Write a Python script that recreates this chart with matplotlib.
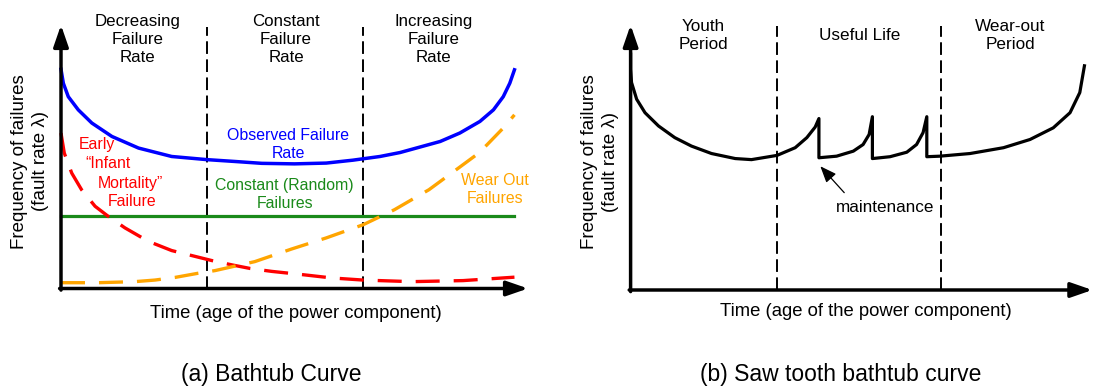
import matplotlib
matplotlib.use("Agg")
import matplotlib.pyplot as plt

plt.rcParams['font.family'] = ['Liberation Sans', 'DejaVu Sans']

# ---------------- data: panel (a) bathtub curve ----------------
obs_x = [0, 0.5, 1.56, 3.7, 6.6, 10.9, 16.6, 23.7, 31.3, 37.3, 43.0, 50.0, 56.8, 62.5,
         68.3, 72.6, 76.9, 81.2, 85.4, 89.7, 92.6, 94.7, 96.1, 97.1]
obs_y = [83.2, 77.9, 72.8, 67.8, 62.8, 57.7, 53.3, 50.1, 48.9, 48.2, 47.5, 47.3, 47.6, 48.7,
         50.1, 51.6, 53.7, 55.8, 59.0, 63.4, 67.8, 72.8, 77.9, 83.0]

early_x = [0, 0.7, 2.3, 4.4, 7.3, 10.1, 13.7, 18.7, 23.7, 28.0, 32.3, 36.5, 40.5, 45.1,
           51.5, 58.0, 64.7, 75.1, 86.1, 97.1]
early_y = [59.0, 51.4, 43.8, 37.5, 31.2, 27.4, 23.0, 17.9, 14.4, 12.5, 10.6, 9.0, 7.6, 6.5,
           5.3, 4.0, 3.2, 2.6, 3.0, 4.3]

wear_x = [0, 8.0, 15.8, 20.1, 24.4, 29.4, 33.0, 41.5, 49.4, 56.8, 64.7, 71.4, 78.8, 85.1,
          89.0, 91.2, 94.7, 97.1]
wear_y = [2.2, 2.2, 2.6, 3.2, 4.2, 5.8, 6.8, 10.2, 15.0, 19.2, 24.2, 29.9, 37.5, 45.7,
          50.8, 54.5, 60.9, 65.9]

const_x = [0, 97.1]
const_y = [27.6, 27.6]

a_dividers = [31.3, 64.7]
a_headers = ["Decreasing\nFailure\nRate", "Constant\nFailure\nRate", "Increasing\nFailure\nRate"]
a_header_x = [16.4, 48.2, 79.7]

# ---------------- data: panel (b) saw-tooth curve ----------------
saw_x = [0, 0, 0.2, 1.3, 3.1, 6.0, 9.5, 13.1, 17.4, 22.5, 26.0, 31.5, 35.4, 37.9, 39.7, 40.5,
         40.5, 44.3, 47.9, 50.0, 51.3, 52.0,
         52.0, 55.8, 59.4, 61.5, 62.9, 63.7,
         63.7, 66.5, 73.0, 80.2, 85.9, 90.9, 94.5, 96.6, 97.6]
saw_y = [89.0, 83.3, 78.3, 72.0, 66.9, 61.9, 57.5, 54.3, 51.5, 49.6, 49.2, 50.8, 53.7, 57.5, 61.5, 64.7,
         49.9, 50.5, 52.4, 54.9, 58.7, 65.4,
         49.6, 50.3, 52.0, 54.9, 59.4, 65.4,
         50.3, 50.5, 51.5, 53.7, 56.8, 61.2, 66.9, 74.5, 84.6]

b_dividers = [31.5, 66.7]
b_headers = ["Youth\nPeriod", "Useful Life", "Wear-out\nPeriod"]
b_header_x = [15.6, 49.3, 81.7]

ylabel = "Frequency of failures\n(fault rate λ)"
xlabel = "Time (age of the power component)"

W, H = 1094, 389
fig = plt.figure(figsize=(W / 100, H / 100), dpi=100)

axA = fig.add_axes([61 / W, (H - 288.5) / H, 467 / W, 263.5 / H])
axB = fig.add_axes([630.6 / W, (H - 290) / H, 465 / W, 265 / H])

arrow_props = dict(arrowstyle='-|>,head_length=1.3,head_width=0.45', lw=2.5,
                   color='black', shrinkA=0, shrinkB=0, mutation_scale=10)


def draw_axes(ax, xend, dividers, div_top):
    ax.set_xlim(0, 100)
    ax.set_ylim(0, 100)
    ax.axis('off')
    ax.annotate('', xy=(0, 100), xytext=(0, -0.6), arrowprops=arrow_props,
                annotation_clip=False)
    ax.annotate('', xy=(xend, 0), xytext=(-0.3, 0), arrowprops=arrow_props,
                annotation_clip=False)
    for d in dividers:
        ax.plot([d, d], [0, div_top], color='black', lw=1.4,
                linestyle=(0, (6.5, 2.8)), clip_on=False)
    ax.text(-6.6, 48.3, ylabel, rotation=90, ha='center', va='center',
            multialignment='center', fontsize=13.5, linespacing=1.3)


draw_axes(axA, 100, a_dividers, 99.2)
draw_axes(axB, 99.3, b_dividers, 99.7)

dash = (0, (7.2, 4.2))
axA.plot(obs_x, obs_y, color='#0000ff', lw=2.5, clip_on=False, solid_joinstyle='round')
axA.plot(const_x, const_y, color='#1a8a1a', lw=2.3, clip_on=False)
axA.plot(early_x, early_y, color='#ff0000', lw=2.4, linestyle=dash, clip_on=False)
axA.plot(wear_x, wear_y, color='#ffa500', lw=2.4, linestyle=dash, clip_on=False)

for hx, ht in zip(a_header_x, a_headers):
    axA.text(hx, 94.5, ht, ha='center', va='center', fontsize=12.2, linespacing=1.22)

axA.text(48.6, 54.7, "Observed Failure\nRate", color='#0000ff', ha='center', va='center',
         fontsize=11.4, linespacing=1.2)
axA.text(47.9, 35.6, "Constant (Random)\nFailures", color='#1a8a1a', ha='center', va='center',
         fontsize=11.4, linespacing=1.2)
axA.text(92.9, 37.6, "Wear Out\nFailures", color='#ffa500', ha='center', va='center',
         fontsize=11.4, linespacing=1.2)
red_lines = ["Early", "\u201cInfant", "Mortality\u201d", "Failure"]
red_x = [7.6, 10.1, 14.9, 15.3]
red_y = [54.7, 47.4, 39.9, 32.9]
for t, x, y in zip(red_lines, red_x, red_y):
    axA.text(x, y, t, color='#ff0000', ha='center', va='center', fontsize=11.4)

axA.text(50.4, -9.3, xlabel, ha='center', va='center', fontsize=13.3)

# panel (b)
axB.plot(saw_x, saw_y, color='black', lw=2.3, clip_on=False, solid_joinstyle='round')
for hx, ht in zip(b_header_x, b_headers):
    axB.text(hx, 96.1, ht, ha='center', va='center', fontsize=12.3, linespacing=1.22)
axB.annotate('maintenance', xy=(40.8, 46.7), xytext=(54.7, 31.3), ha='center', va='center',
             fontsize=12.3,
             arrowprops=dict(arrowstyle='-|>,head_length=1.0,head_width=0.4', lw=0.9,
                             color='black', shrinkA=4, shrinkB=0, mutation_scale=10,
                             relpos=(0.15, 1.0)))
axB.text(50.5, -8.3, xlabel, ha='center', va='center', fontsize=13.3)

fig.text(271 / W, 1 - 375 / H, "(a) Bathtub Curve", ha='center', va='center', fontsize=16.5)
fig.text(841 / W, 1 - 375 / H, "(b) Saw tooth bathtub curve", ha='center', va='center', fontsize=16.5)

fig.savefig('out.png', dpi=100, facecolor='white')
